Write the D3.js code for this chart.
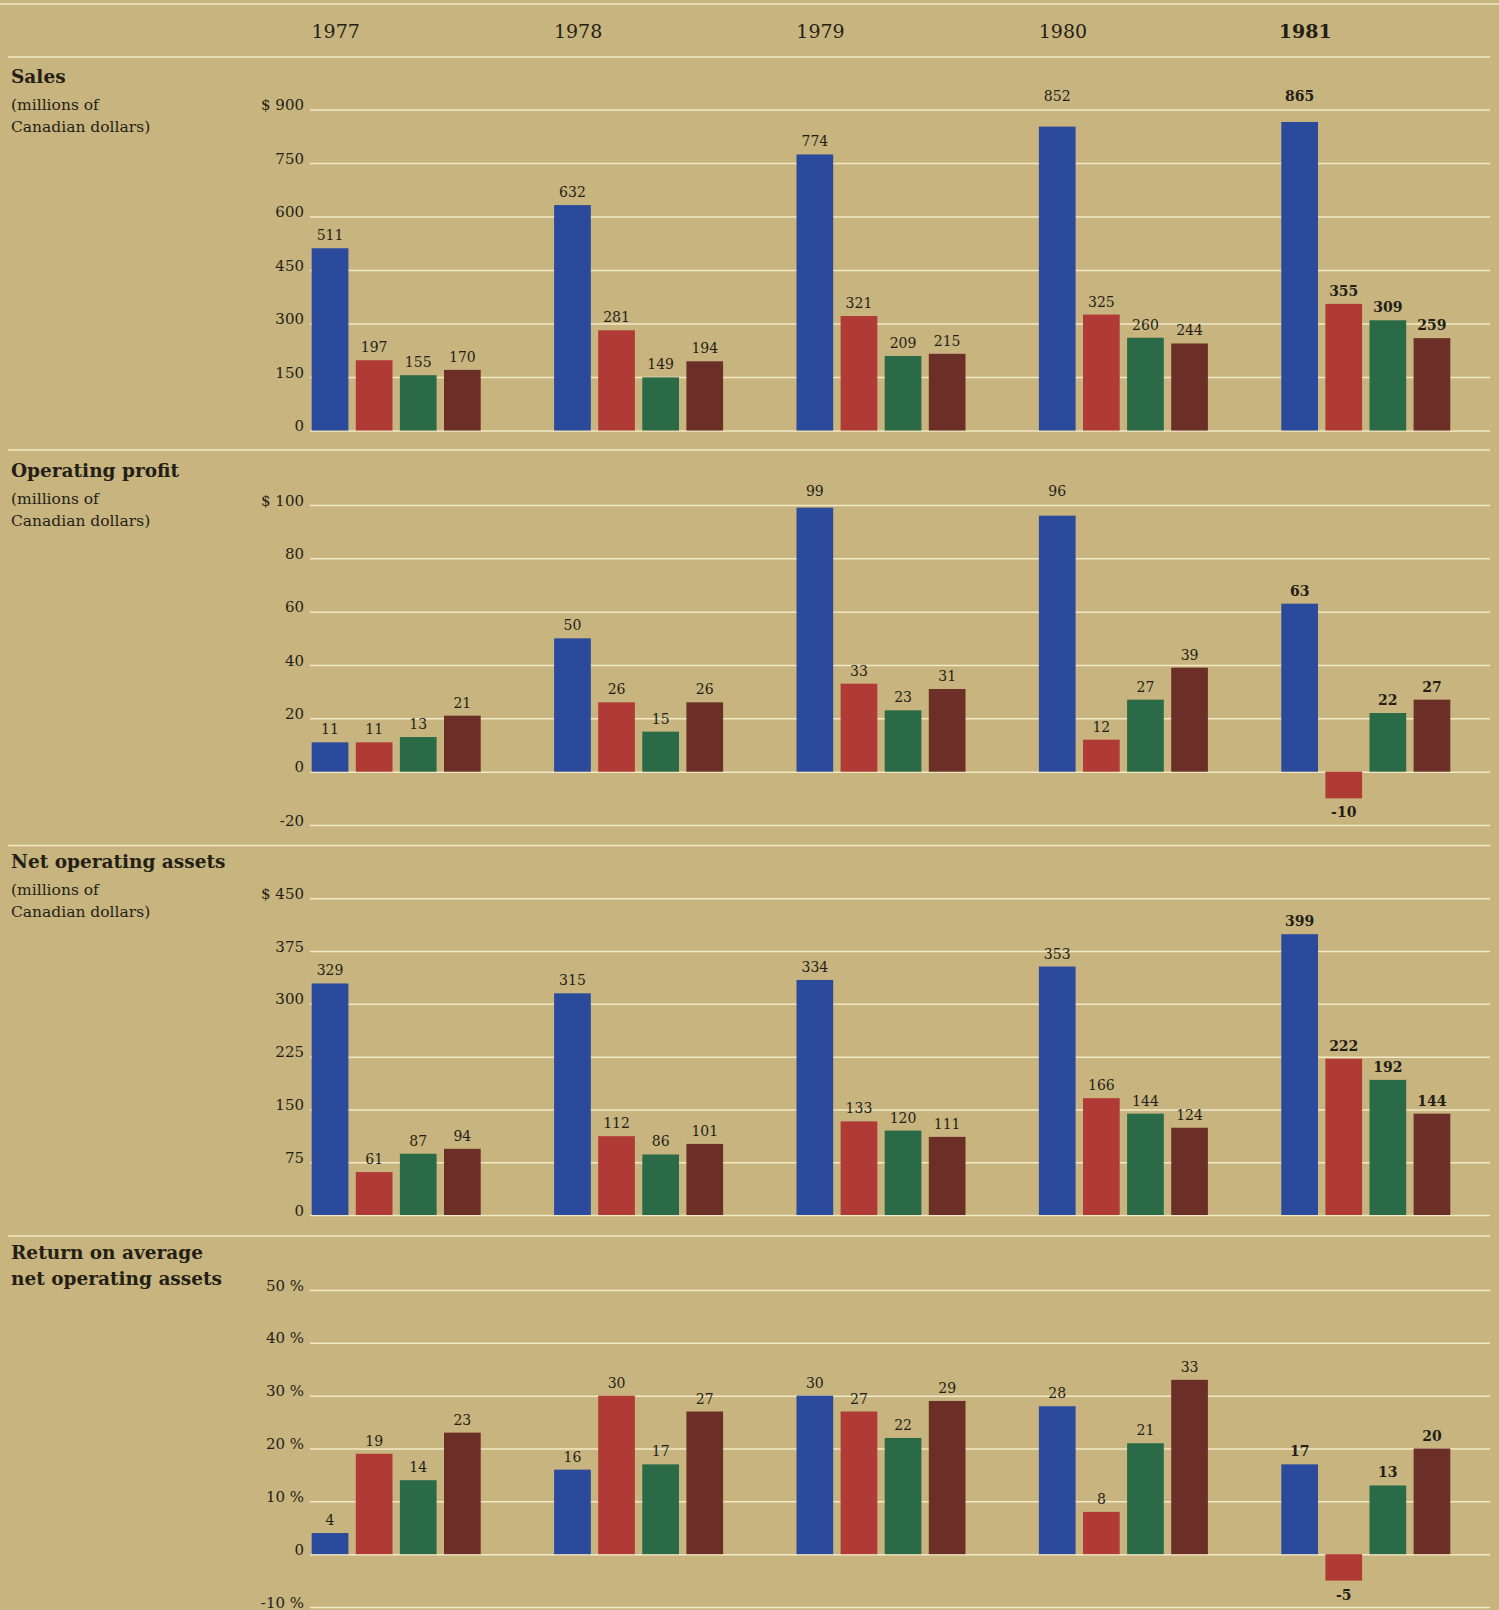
<!DOCTYPE html>
<html>
<head>
<meta charset="utf-8">
<script src="https://cdn.jsdelivr.net/npm/d3@7"></script>
<style>
body { margin: 0; background: #c8b47e; }
svg { display: block; font-family: "DejaVu Serif", serif; }
</style>
</head>
<body>
<svg id="chart" width="1499" height="1610"></svg>
<script>
// data
let years = ["1977", "1978", "1979", "1980", "1981"];
let segments = ["s1", "s2", "s3", "s4"];

let salesValues  = [[511, 197, 155, 170], [632, 281, 149, 194], [774, 321, 209, 215], [852, 325, 260, 244], [865, 355, 309, 259]];
let profitValues = [[11, 11, 13, 21], [50, 26, 15, 26], [99, 33, 23, 31], [96, 12, 27, 39], [63, -10, 22, 27]];
let assetsValues = [[329, 61, 87, 94], [315, 112, 86, 101], [334, 133, 120, 111], [353, 166, 144, 124], [399, 222, 192, 144]];
let returnValues = [[4, 19, 14, 23], [16, 30, 17, 27], [30, 27, 22, 29], [28, 8, 21, 33], [17, -5, 13, 20]];

let salesTicks  = [0, 150, 300, 450, 600, 750, 900];
let profitTicks = [-20, 0, 20, 40, 60, 80, 100];
let assetsTicks = [0, 75, 150, 225, 300, 375, 450];
let returnTicks = [-10, 0, 10, 20, 30, 40, 50];

let segmentColors = ["#2b4a9b", "#b03b36", "#2a6a46", "#6b2f27"];

let textColor = "#241f15";
let lineColor = "#f2eac6";

// panel layout
let panels = [
    { title: ["Sales"], sub: ["(millions of", "Canadian dollars)"], values: salesValues, ticks: salesTicks,
      range: [430.5, 109.5], unit: "$", titleY: 83, sepY: 57 },
    { title: ["Operating profit"], sub: ["(millions of", "Canadian dollars)"], values: profitValues, ticks: profitTicks,
      range: [825, 505], unit: "$", titleY: 477, sepY: 450 },
    { title: ["Net operating assets"], sub: ["(millions of", "Canadian dollars)"], values: assetsValues, ticks: assetsTicks,
      range: [1215, 898.3], unit: "$", titleY: 868, sepY: 845.5 },
    { title: ["Return on average", "net operating assets"], sub: [], values: returnValues, ticks: returnTicks,
      range: [1607, 1290], unit: "%", titleY: 1259, sepY: 1236 }
];

let chart = d3.select("#chart");
let gridLeft = 310, gridRight = 1490;

// x scales: year groups, then the four bars inside a group
let x = d3.scaleBand()
    .domain(years)
    .range([311.7, 311.7 + 4 * 242.4 + 169])
    .paddingInner(1 - 169 / 242.4)
    .paddingOuter(0);

let xInner = d3.scaleBand()
    .domain(segments)
    .range([0, x.bandwidth()])
    .paddingInner(1 - 36.7 / 44.1)
    .paddingOuter(0);

// top rule and year header
chart.append("line")
    .attr("x1", 0).attr("x2", 1499)
    .attr("y1", 4).attr("y2", 4)
    .attr("stroke", lineColor).attr("stroke-width", 1.5);

chart.selectAll(".year")
    .data(years)
    .enter()
    .append("text")
    .attr("class", "year")
    .attr("x", function(d) { return x(d) + 24; })
    .attr("y", 37.5)
    .attr("text-anchor", "middle")
    .style("font-size", "19px")
    .style("font-weight", function(d, i) { return i == years.length - 1 ? "bold" : "normal"; })
    .style("fill", textColor)
    .text(function(d) { return d; });

panels.forEach(function(p) {
    let lo = d3.min(p.ticks), hi = d3.max(p.ticks);
    let y = d3.scaleLinear().domain([lo, hi]).range(p.range);

    // separator
    chart.append("line")
        .attr("x1", 8).attr("x2", gridRight)
        .attr("y1", p.sepY).attr("y2", p.sepY)
        .attr("stroke", lineColor).attr("stroke-width", 1.5);

    // title
    chart.selectAll(null)
        .data(p.title)
        .enter()
        .append("text")
        .attr("x", 11)
        .attr("y", function(d, i) { return p.titleY + i * 26; })
        .style("font-size", "18.5px")
        .style("font-weight", "bold")
        .style("fill", textColor)
        .text(function(d) { return d; });

    chart.selectAll(null)
        .data(p.sub)
        .enter()
        .append("text")
        .attr("x", 11)
        .attr("y", function(d, i) { return p.titleY + 27 + i * 22; })
        .style("font-size", "15.5px")
        .style("fill", textColor)
        .text(function(d) { return d; });

    // y axis with gridlines
    let yAxis = d3.axisLeft(y)
        .tickValues(p.ticks)
        .tickSize(-(gridRight - gridLeft))
        .tickPadding(6)
        .tickFormat(function(d) {
            if (p.unit == "$") return d == hi ? "$ " + d : d;
            return d == 0 ? "0" : d + " %";
        });

    let g = chart.append("g")
        .attr("transform", "translate(" + gridLeft + ",0)")
        .call(yAxis);
    g.select(".domain").remove();
    g.selectAll(".tick line")
        .attr("stroke", lineColor)
        .attr("stroke-width", 1.5);
    // tick labels sit on their gridline
    g.selectAll(".tick text")
        .attr("dy", "0")
        .style("font-family", "DejaVu Serif, serif")
        .style("font-size", "15px")
        .style("fill", textColor);

    // bars
    let groups = chart.selectAll(null)
        .data(p.values)
        .enter()
        .append("g")
        .attr("transform", function(d, i) { return "translate(" + x(years[i]) + ",0)"; });

    groups.selectAll("rect")
        .data(function(d) { return d; })
        .enter()
        .append("rect")
        .attr("x", function(d, i) { return xInner(segments[i]); })
        .attr("y", function(d) { return y(Math.max(0, d)); })
        .attr("width", xInner.bandwidth())
        .attr("height", function(d) { return Math.abs(y(d) - y(0)); })
        .attr("fill", function(d, i) { return segmentColors[i]; });

    // value labels
    groups.each(function(row, gi) {
        d3.select(this).selectAll("text")
            .data(row)
            .enter()
            .append("text")
            .attr("x", function(d, i) { return xInner(segments[i]) + xInner.bandwidth() / 2; })
            .attr("y", function(d) {
                if (d < 0) return y(d) + 19;
                let top = y(d);
                // labels of bars that reach the top gridline sit above it
                if (top - y(hi) < 20) return y(hi) - 9;
                return top - 8;
            })
            .attr("text-anchor", "middle")
            .style("font-size", "14px")
            .style("font-weight", gi == years.length - 1 ? "bold" : "normal")
            .style("fill", textColor)
            .text(function(d) { return d; });
    });
});
</script>
</body>
</html>
